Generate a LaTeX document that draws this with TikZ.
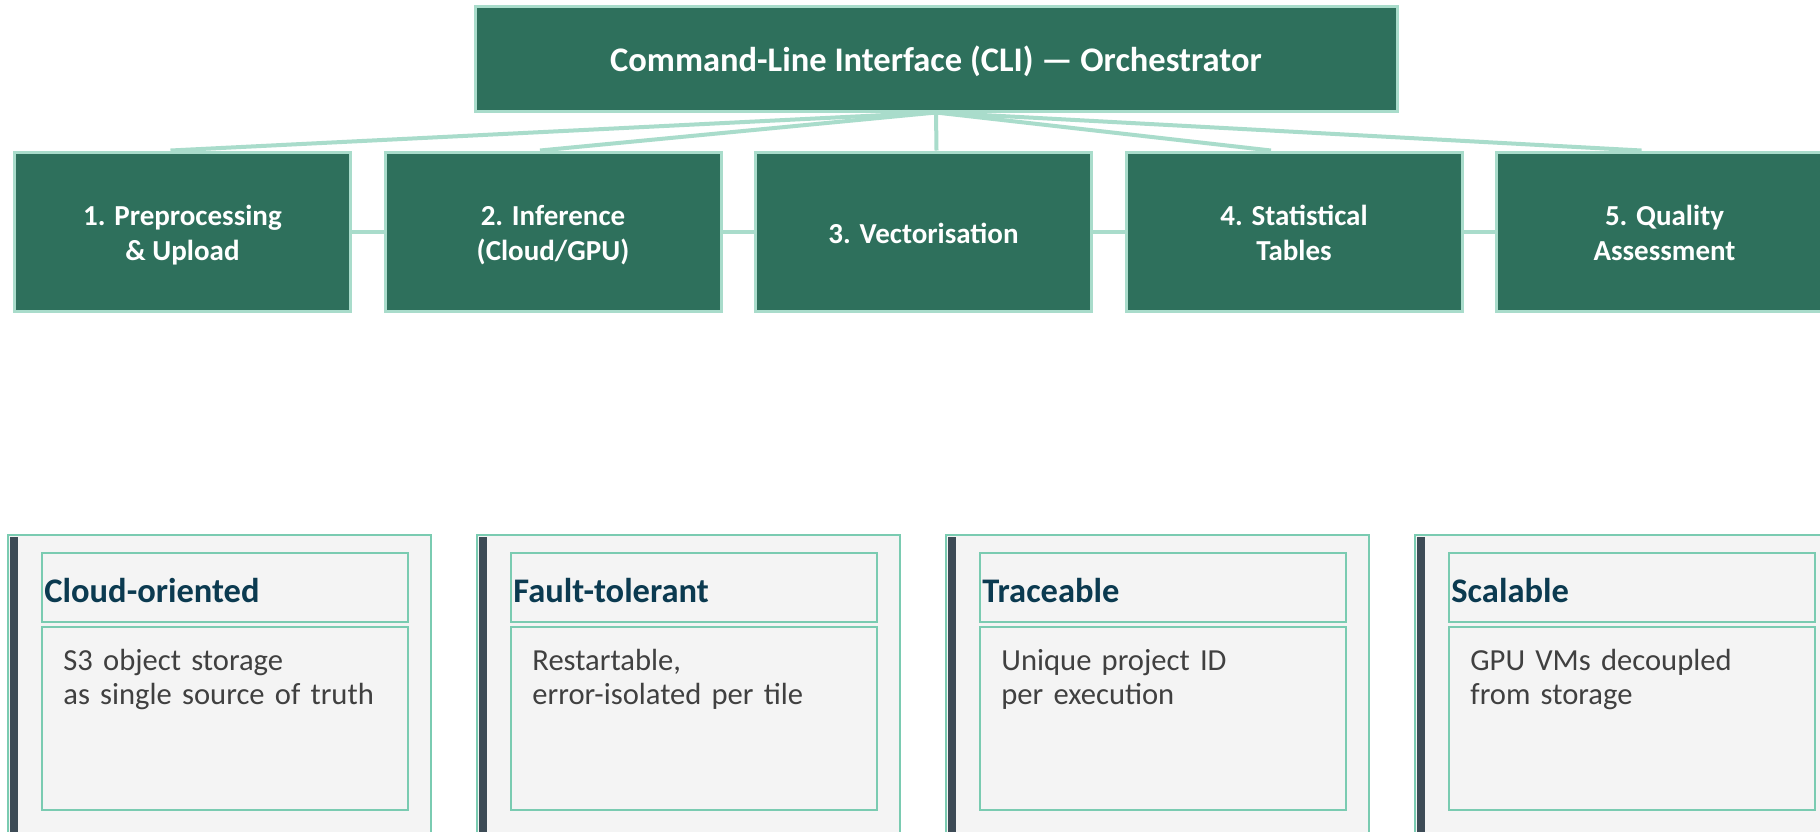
\documentclass[tikz,border=0pt]{standalone}
\usepackage{fontspec}
\setmainfont{Carlito}
\usetikzlibrary{calc}
\definecolor{stagegreen}{HTML}{2E705C}
\definecolor{mint}{HTML}{A9DCCB}
\definecolor{cardline}{HTML}{7ACBB1}
\definecolor{cardfill}{HTML}{F4F4F4}
\definecolor{cardbar}{HTML}{3D4B56}
\definecolor{headnavy}{HTML}{0B3A50}
\definecolor{bodygray}{HTML}{404040}

\begin{document}
\begin{tikzpicture}[x=0.5pt,y=-0.5pt,
        stage/.style={draw=mint,line width=1.5pt,fill=stagegreen,text=white,
            font=\bfseries\fontsize{14.5}{17.5}\selectfont,align=center,
            text height=33pt,text depth=4pt,
            minimum width=168pt,minimum height=79.5pt,inner sep=0pt},
        link/.style={mint,line width=2pt},
        card/.style={draw=cardline,line width=1.3pt,fill=cardfill},
        cardbox/.style={draw=cardline,line width=1.25pt,fill=cardfill,
            minimum width=183pt,inner sep=0pt},
        headtext/.style={text=headnavy,font=\bfseries\fontsize{17.25}{20}\selectfont,inner sep=0pt},
        bodytext/.style={text=bodygray,font=\fontsize{15.3}{17.4}\selectfont,
            text width=170pt,align=left,inner sep=0pt}]
    \clip (0,0) rectangle (1820,831);
    \fill[white] (0,0) rectangle (1820,831);
    % orchestrator and the five stages
    \node[stage,font=\bfseries\fontsize{17.25}{20}\selectfont,
        text height=16.5pt,text depth=4pt,minimum width=461pt,minimum height=52.5pt]
        (cli) at (936,58.5) {Command-Line Interface (CLI) — Orchestrator};
    \foreach \i/\txt in {1/{1. Preprocessing\\\& Upload},2/{2. Inference\\(Cloud/GPU)},
            4/{4. Statistical\\Tables},5/{5. Quality\\Assessment}}{
        \node[stage] (p\i) at ({182.5+370.5*(\i-1)},231.5) {\txt};
    }
    \node[stage,text height=11.6pt,text depth=0pt] (p3) at (923.5,231.5) {3. Vectorisation};
    \foreach \i/\dx in {1/-12,2/-13,3/13,4/-23,5/-23}{
        \draw[link] (cli.south) -- ($(p\i.north)+(\dx,0)$);
    }
    \foreach \i/\j in {1/2,2/3,3/4,4/5}{
        \draw[link] (p\i.east) -- (p\j.west);
    }
    % property cards
    \foreach \k/\title/\lines in {1/Cloud-oriented/{S3 object storage\\as single source of truth},
            2/Fault-tolerant/{Restartable,\\error-isolated per tile},
            3/Traceable/{Unique project ID\\per execution},
            4/Scalable/{GPU VMs decoupled\\from storage}}{
        \pgfmathsetmacro\cx{8+469*(\k-1)}
        \draw[card] (\cx,535) rectangle ++(423,400);
        \fill[cardbar] (\cx+2,537) rectangle ++(8,400);
        \node[cardbox,minimum height=34.5pt] (h\k) at (\cx+217,587.5) {};
        \node[cardbox,minimum height=91.5pt] (d\k) at (\cx+217,718.5) {};
        \node[headtext,anchor=base west] (t\k) at (\cx+36,602) {\title};
        \node[bodytext,anchor=base west] (b\k) at (\cx+55,670) {\lines};
    }
\end{tikzpicture}
\end{document}
